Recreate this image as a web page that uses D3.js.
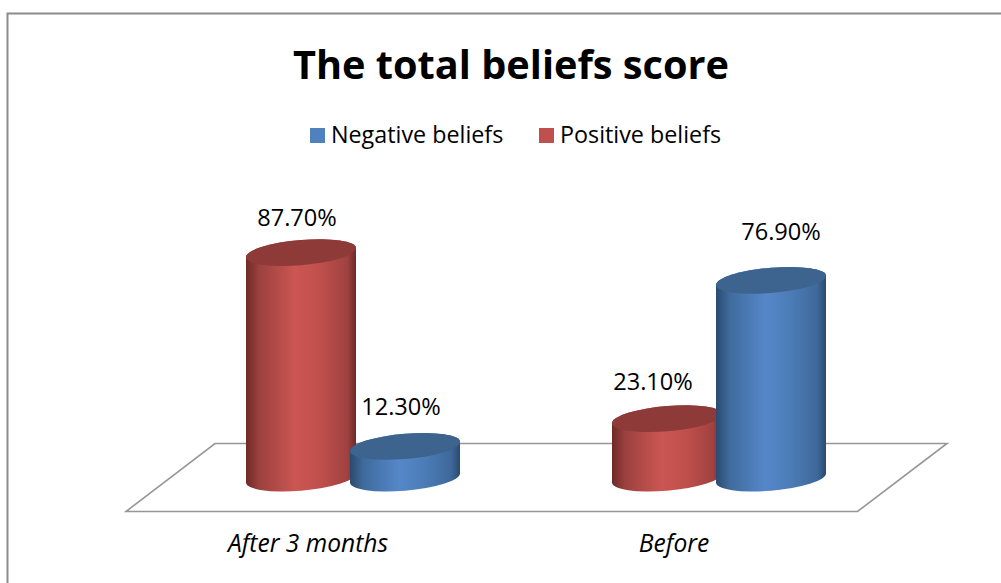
<!DOCTYPE html>
<html>
<head>
<meta charset="utf-8">
<script src="https://cdn.jsdelivr.net/npm/d3@7"></script>
<style>
html, body { margin: 0; padding: 0; background: #fff; }
svg { display: block; }
text { font-family: "Open Sans", Lato, sans-serif; fill: #000; }
</style>
</head>
<body>
<div id="chart"></div>
<script>
var categories = ["After 3 months", "Before"];
var seriesNames = ["Positive beliefs", "Negative beliefs"];
var legendNames = ["Negative beliefs", "Positive beliefs"];
var positiveValues = [87.7, 23.1];
var negativeValues = [12.3, 76.9];
var valueLabels = { "Positive beliefs": ["87.70%", "23.10%"], "Negative beliefs": ["12.30%", "76.90%"] };

var width = 1001;
var height = 583;

var svg = d3.select("#chart").append("svg")
    .attr("width", width)
    .attr("height", height);

// the frame runs off the right and bottom of the picture
svg.append("path")
    .attr("d", "M7.5,583V13.5H1001")
    .attr("fill", "none")
    .attr("stroke", "#8c8c8c")
    .attr("stroke-width", 2);

var x = d3.scaleBand().domain(categories).range([170, 902]);
var xSeries = d3.scalePoint().domain(seriesNames).range([-52, 52]);
var y = d3.scaleLinear().domain([0, 100]).range([478, 221]);
var color = d3.scaleOrdinal().domain(seriesNames).range(["#c0504d", "#4f81bd"]);
var topColor = d3.scaleOrdinal().domain(seriesNames).range(["#8e3a38", "#3d648f"]);

var defs = svg.append("defs");
var stops = {
    "Positive beliefs": ["#6e2a28", "#9c413e", "#cb5652", "#bf4f4c", "#a04240", "#6e2a28"],
    "Negative beliefs": ["#2b4a6e", "#3f6a9c", "#5587c9", "#4c7cb6", "#3e689a", "#2b4a6e"]
};
var offsets = [0, 0.12, 0.45, 0.68, 0.92, 1];
seriesNames.forEach(function(name, i) {
    var grad = defs.append("linearGradient").attr("id", "body" + i);
    offsets.forEach(function(o, j) {
        grad.append("stop").attr("offset", o).attr("stop-color", stops[name][j]);
    });
});

// floor of the 3D plot
svg.append("path")
    .attr("d", "M215,443.5H947L857.5,511.5H126Z")
    .attr("fill", "#fff")
    .attr("stroke", "#969696")
    .attr("stroke-width", 1.6);

var rx = 55;
var ry = 12.7;
var skew = -0.082;

// labels were dragged by hand in the original, so each one has its own nudge
var labelNudge = {
    "Positive beliefs": [[-4, -27], [-14, -29]],
    "Negative beliefs": [[-4, -31], [10, -40]]
};

var bars = [];
seriesNames.forEach(function(name, s) {
    var values = s === 0 ? positiveValues : negativeValues;
    categories.forEach(function(cat, c) {
        bars.push({ name: name, s: s, cat: cat, value: values[c], label: valueLabels[name][c], nudge: labelNudge[name][c] });
    });
});

var g = svg.selectAll("g.bar").data(bars).enter().append("g")
    .attr("class", "bar")
    .attr("transform", function(d) {
        var cx = x(d.cat) + x.bandwidth() / 2 + xSeries(d.name);
        return "matrix(1," + skew + ",0,1," + cx + ",0)";
    });

g.append("path")
    .attr("fill", function(d) { return "url(#body" + d.s + ")"; })
    .attr("d", function(d) {
        return "M" + (-rx) + "," + y(d.value) +
            "V" + y(0) +
            "A" + rx + "," + ry + " 0 0 0 " + rx + "," + y(0) +
            "V" + y(d.value) +
            "A" + rx + "," + ry + " 0 0 0 " + (-rx) + "," + y(d.value) + "Z";
    });

g.append("ellipse")
    .attr("rx", rx)
    .attr("ry", ry)
    .attr("cy", function(d) { return y(d.value); })
    .attr("fill", function(d) { return topColor(d.name); });

svg.selectAll("text.value").data(bars).enter().append("text")
    .attr("class", "value")
    .attr("x", function(d) { return x(d.cat) + x.bandwidth() / 2 + xSeries(d.name) + d.nudge[0]; })
    .attr("y", function(d) { return y(d.value) + d.nudge[1]; })
    .attr("text-anchor", "middle")
    .attr("font-size", 23.6)
    .text(function(d) { return d.label; });

svg.selectAll("text.cat").data(categories).enter().append("text")
    .attr("class", "cat")
    .attr("x", function(d) { return x(d) + x.bandwidth() / 2 - 45; })
    .attr("y", 552)
    .attr("text-anchor", "middle")
    .attr("font-size", 24.6)
    .attr("font-style", "italic")
    .text(function(d) { return d; });

svg.append("text")
    .attr("x", 511)
    .attr("y", 78.5)
    .attr("text-anchor", "middle")
    .attr("font-size", 39.7)
    .attr("font-weight", 700)
    .text("The total beliefs score");

// legend
var legendX = d3.scaleOrdinal().domain(legendNames).range([310, 539]);
var legend = svg.selectAll("g.legend").data(legendNames).enter().append("g")
    .attr("class", "legend")
    .attr("transform", function(d) { return "translate(" + legendX(d) + ",128)"; });
legend.append("rect")
    .attr("width", 15)
    .attr("height", 15)
    .attr("fill", function(d) { return color(d); });
legend.append("text")
    .attr("x", 21)
    .attr("y", 15)
    .attr("font-size", 23.3)
    .text(function(d) { return d; });
</script>
</body>
</html>
